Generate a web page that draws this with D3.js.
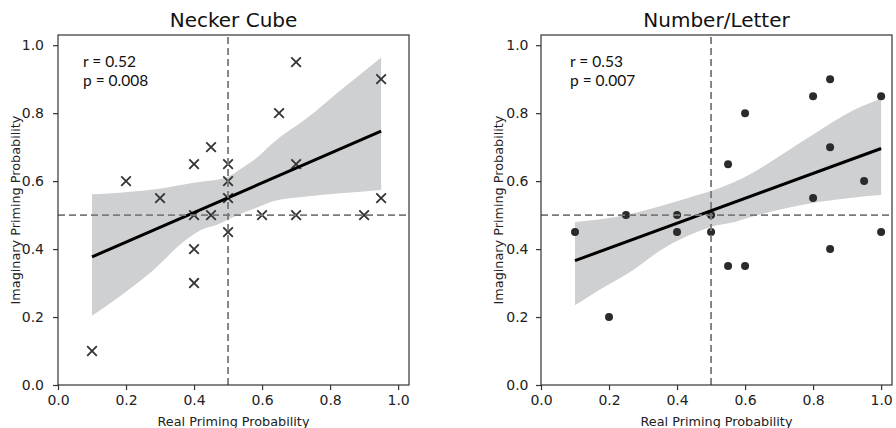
<!DOCTYPE html>
<html>
<head>
<meta charset="utf-8">
<script src="https://cdn.jsdelivr.net/npm/d3@7"></script>
<style>
  body { margin: 0; background: #fff; }
  svg { display: block; }
</style>
</head>
<body>
<div id="chart"></div>
<script>
var width = 896,
    height = 428;

var ticks = [0, 0.2, 0.4, 0.6, 0.8, 1.0];

// Necker Cube
var neckerX = [0.1, 0.2, 0.3, 0.4, 0.4, 0.4, 0.4, 0.45, 0.45, 0.5, 0.5, 0.5, 0.5, 0.6, 0.65, 0.7, 0.7, 0.7, 0.9, 0.95, 0.95];
var neckerY = [0.1, 0.6, 0.55, 0.65, 0.5, 0.4, 0.3, 0.7, 0.5, 0.65, 0.6, 0.55, 0.45, 0.5, 0.8, 0.95, 0.65, 0.5, 0.5, 0.9, 0.55];
var neckerFitX = [0.1, 0.95];
var neckerFitY = [0.377, 0.747];
var neckerBandX = [0.1, 0.18, 0.28, 0.37, 0.42, 0.47, 0.5, 0.54, 0.58, 0.63, 0.73, 0.83, 0.95];
var neckerBandHi = [0.561, 0.566, 0.575, 0.590, 0.598, 0.605, 0.613, 0.638, 0.665, 0.711, 0.784, 0.867, 0.964];
var neckerBandLo = [0.204, 0.260, 0.338, 0.422, 0.456, 0.472, 0.487, 0.505, 0.52, 0.54, 0.555, 0.564, 0.574];

// Number/Letter
var numberX = [0.1, 0.2, 0.25, 0.4, 0.4, 0.5, 0.5, 0.55, 0.55, 0.6, 0.6, 0.8, 0.8, 0.85, 0.85, 0.85, 0.95, 1.0, 1.0];
var numberY = [0.45, 0.2, 0.5, 0.5, 0.45, 0.5, 0.45, 0.65, 0.35, 0.8, 0.35, 0.85, 0.55, 0.9, 0.7, 0.4, 0.6, 0.85, 0.45];
var numberFitX = [0.1, 1.0];
var numberFitY = [0.366, 0.696];
var numberBandX = [0.1, 0.17, 0.27, 0.36, 0.46, 0.5, 0.57, 0.62, 0.72, 0.82, 0.92, 1.0];
var numberBandHi = [0.480, 0.487, 0.505, 0.529, 0.559, 0.571, 0.598, 0.623, 0.686, 0.750, 0.809, 0.843];
var numberBandLo = [0.235, 0.279, 0.338, 0.402, 0.451, 0.466, 0.480, 0.495, 0.520, 0.539, 0.552, 0.559];

var svg = d3.select("#chart").append("svg")
    .attr("width", width)
    .attr("height", height);

function drawPanel(opt) {
  var x = d3.scaleLinear().domain([0, 1.032]).range([opt.left, opt.left + 351]);
  var y = d3.scaleLinear().domain([0, 1.03]).range([385, 35]);
  var g = svg.append("g");

  // confidence band
  var band = opt.bandX.map(function(d, i) { return [d, opt.bandLo[i], opt.bandHi[i]]; });
  g.append("path")
    .datum(band)
    .attr("d", d3.area()
      .x(function(d) { return x(d[0]); })
      .y0(function(d) { return y(d[1]); })
      .y1(function(d) { return y(d[2]); })
      .curve(d3.curveMonotoneX))
    .style("fill", "#cfd0d2");

  var pts = opt.xs.map(function(d, i) { return [d, opt.ys[i]]; });
  if (opt.marker == "x") {
    var s = 4.8;
    g.selectAll("path.pt")
      .data(pts)
      .enter()
      .append("path")
      .attr("class", "pt")
      .attr("d", function(d) {
        var cx = x(d[0]), cy = y(d[1]);
        return "M" + (cx - s) + "," + (cy - s) + "L" + (cx + s) + "," + (cy + s) +
               "M" + (cx - s) + "," + (cy + s) + "L" + (cx + s) + "," + (cy - s);
      })
      .style("stroke", "#333")
      .style("stroke-width", 1.8)
      .style("fill", "none");
  } else {
    g.selectAll("circle.pt")
      .data(pts)
      .enter()
      .append("circle")
      .attr("class", "pt")
      .attr("cx", function(d) { return x(d[0]); })
      .attr("cy", function(d) { return y(d[1]); })
      .attr("r", 4)
      .style("fill", "#2b2b2b");
  }

  // regression line
  var fit = opt.fitX.map(function(d, i) { return [d, opt.fitY[i]]; });
  g.append("path")
    .datum(fit)
    .attr("d", d3.line().x(function(d) { return x(d[0]); }).y(function(d) { return y(d[1]); }))
    .style("stroke", "#000")
    .style("stroke-width", 3)
    .style("fill", "none");

  // chance lines
  g.append("line")
    .attr("x1", x(0.5)).attr("x2", x(0.5))
    .attr("y1", y(0)).attr("y2", y(1.03))
    .style("stroke", "#7a7a7a").style("stroke-width", 1.8).style("stroke-dasharray", "7,4");
  g.append("line")
    .attr("x1", x(0)).attr("x2", x(1.032))
    .attr("y1", y(0.5)).attr("y2", y(0.5))
    .style("stroke", "#7a7a7a").style("stroke-width", 1.8).style("stroke-dasharray", "7,4");

  // frame
  g.append("rect")
    .attr("x", x(0)).attr("y", y(1.03))
    .attr("width", x(1.032) - x(0)).attr("height", y(0) - y(1.03))
    .style("fill", "none").style("stroke", "#333").style("stroke-width", 1.2);

  var xa = g.append("g")
    .attr("transform", "translate(0,385)")
    .call(d3.axisBottom(x).tickValues(ticks).tickFormat(d3.format(".1f")).tickSize(5).tickPadding(5.5));
  var ya = g.append("g")
    .attr("transform", "translate(" + opt.left + ",0)")
    .call(d3.axisLeft(y).tickValues(ticks).tickFormat(d3.format(".1f")).tickSize(5).tickPadding(opt.yPad));
  [xa, ya].forEach(function(a) {
    a.select(".domain").remove();
    a.selectAll(".tick line").style("stroke", "#333").style("stroke-width", 1.2);
    a.selectAll(".tick text")
      .style("font-family", "DejaVu Sans, sans-serif")
      .style("font-size", "14px")
      .style("fill", "#222");
  });

  g.append("text")
    .attr("x", opt.left + 175.5).attr("y", 27)
    .attr("text-anchor", "middle")
    .style("font-family", "DejaVu Sans, sans-serif").style("font-size", "20px").style("fill", "#111")
    .text(opt.title);

  g.append("text")
    .attr("x", opt.left + 175.5).attr("y", 426)
    .attr("text-anchor", "middle")
    .style("font-family", "DejaVu Sans, sans-serif").style("font-size", "12.8px").style("fill", "#222")
    .text("Real Priming Probability");

  g.append("text")
    .attr("transform", "translate(" + (opt.left - 38) + ",210) rotate(-90)")
    .attr("text-anchor", "middle")
    .style("font-family", "DejaVu Sans, sans-serif").style("font-size", "12.8px").style("fill", "#222")
    .text("Imaginary Priming Probability");

  var stat = g.append("text")
    .style("font-family", "Lato, sans-serif").style("font-size", "15.5px").style("fill", "#111");
  stat.append("tspan").attr("x", opt.left + opt.statDx).attr("y", 66.5).text(opt.r);
  stat.append("tspan").attr("x", opt.left + opt.statDx).attr("y", 86).text(opt.p);
}

drawPanel({
  left: 58, title: "Necker Cube", marker: "x",
  xs: neckerX, ys: neckerY, fitX: neckerFitX, fitY: neckerFitY,
  bandX: neckerBandX, bandLo: neckerBandLo, bandHi: neckerBandHi,
  r: "r = 0.52", p: "p = 0.008", statDx: 25, yPad: 9
});

drawPanel({
  left: 541, title: "Number/Letter", marker: "o",
  xs: numberX, ys: numberY, fitX: numberFitX, fitY: numberFitY,
  bandX: numberBandX, bandLo: numberBandLo, bandHi: numberBandHi,
  r: "r = 0.53", p: "p = 0.007", statDx: 29, yPad: 7.5
});
</script>
</body>
</html>
